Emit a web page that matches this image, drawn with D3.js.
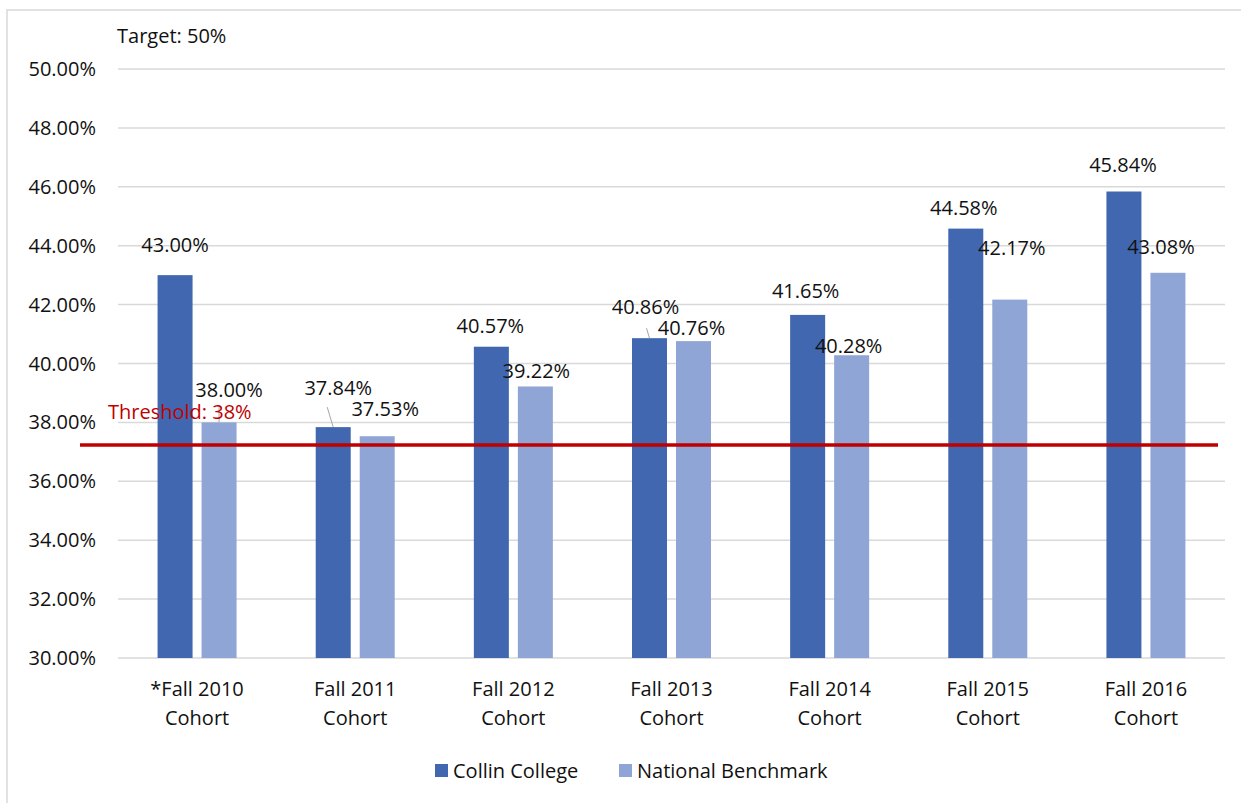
<!DOCTYPE html>
<html>
<head>
<meta charset="utf-8">
<script src="https://cdn.jsdelivr.net/npm/d3@7"></script>
<style>
  body { margin: 0; background: #fff; }
  svg text { font-family: "Open Sans", "Noto Sans", sans-serif; fill: #111; font-size: 20px; }
</style>
</head>
<body>
<div id="draw-space"></div>
<script>
const cohorts = ['*Fall 2010', 'Fall 2011', 'Fall 2012', 'Fall 2013', 'Fall 2014', 'Fall 2015', 'Fall 2016'];
const collin = [43.00, 37.84, 40.57, 40.86, 41.65, 44.58, 45.84];
const benchmark = [38.00, 37.53, 39.22, 40.76, 40.28, 42.17, 43.08];
const seriesNames = ['Collin College', 'National Benchmark'];
const yTicks = [30, 32, 34, 36, 38, 40, 42, 44, 46, 48, 50];
const thresholdValue = 37.23;
const thresholdLabel = 'Threshold: 38%';
const targetLabel = 'Target: 50%';

// label nudges (pixels) for data labels, [dx, dy from bar top to label centre]
const collinNudge = [[0, -30], [5, -39], [-1, -21], [-4, -31], [-2, -24], [-2, -21], [-1, -27]];
const benchNudge = [[10, -32], [8, -27], [1, -15], [-2, -13], [-3, -9], [2, -52], [-7, -26]];

const W = 1241, H = 803;
const colors = ['#4067B0', '#8FA5D5'];

const svg = d3.select('#draw-space').append('svg')
              .attr('width', W).attr('height', H);

svg.append('rect')
   .attr('x', 7).attr('y', 10)
   .attr('width', W + 10).attr('height', H + 10)
   .attr('fill', 'none').attr('stroke', '#d9d9d9').attr('stroke-width', 1.5);

const x0 = d3.scaleBand().domain(cohorts).range([118, 1225]);
const yScale = d3.scaleLinear().domain([30, 50]).range([658, 69]);

// gridlines
svg.selectAll('.grid')
   .data(yTicks)
   .enter()
   .append('line')
   .attr('x1', 118).attr('x2', 1225)
   .attr('y1', d => yScale(d)).attr('y2', d => yScale(d))
   .attr('stroke', '#d9d9d9').attr('stroke-width', 1.5);

svg.selectAll('.ytick')
   .data(yTicks)
   .enter()
   .append('text')
   .attr('x', 96)
   .attr('y', d => yScale(d))
   .attr('dy', '0.35em')
   .attr('text-anchor', 'end')
   .text(d => d.toFixed(2) + '%');

const barW = 35, gap = 9;
const barX = (i, s) => x0(cohorts[i]) + x0.bandwidth() / 2 + (s === 0 ? -gap / 2 - barW : gap / 2);

const series = [collin, benchmark];
const nudges = [collinNudge, benchNudge];

series.forEach((vals, s) => {
  svg.selectAll('.bar-' + s)
     .data(vals)
     .enter()
     .append('rect')
     .attr('x', (d, i) => barX(i, s))
     .attr('y', d => yScale(d))
     .attr('width', barW)
     .attr('height', d => yScale(30) - yScale(d))
     .attr('fill', colors[s]);
});

// leader lines
const leaderData = [
  {s: 1, i: 0, x1: 0, y1: -15},
  {s: 0, i: 1, x1: -6, y1: -20},
  {s: 0, i: 3, x1: -3, y1: -10}
];
svg.selectAll('.leader')
   .data(leaderData)
   .enter()
   .append('line')
   .attr('x1', d => barX(d.i, d.s) + barW / 2 + d.x1)
   .attr('y1', d => yScale(series[d.s][d.i]) + d.y1)
   .attr('x2', d => barX(d.i, d.s) + barW / 2)
   .attr('y2', d => yScale(series[d.s][d.i]))
   .attr('stroke', '#a6a6a6').attr('stroke-width', 1);

// threshold
svg.append('line')
   .attr('x1', 80).attr('x2', 1218)
   .attr('y1', yScale(thresholdValue)).attr('y2', yScale(thresholdValue))
   .attr('stroke', '#C00000').attr('stroke-width', 3.5);

svg.append('text')
   .attr('x', 108).attr('y', yScale(thresholdValue) - 33)
   .attr('dy', '0.35em')
   .style('fill', '#C00000')
   .text(thresholdLabel);

series.forEach((vals, s) => {
  svg.selectAll('.label-' + s)
     .data(vals)
     .enter()
     .append('text')
     .attr('x', (d, i) => barX(i, s) + barW / 2 + nudges[s][i][0])
     .attr('y', (d, i) => yScale(d) + nudges[s][i][1])
     .attr('dy', '0.35em')
     .attr('text-anchor', 'middle')
     .text(d => d.toFixed(2) + '%');
});

// category labels
const cats = svg.selectAll('.cat')
                .data(cohorts)
                .enter()
                .append('text')
                .attr('text-anchor', 'middle');
cats.append('tspan')
    .attr('x', d => x0(d) + x0.bandwidth() / 2)
    .attr('y', 696)
    .text(d => d);
cats.append('tspan')
    .attr('x', d => x0(d) + x0.bandwidth() / 2)
    .attr('y', 725)
    .text('Cohort');

svg.append('text')
   .attr('x', 117).attr('y', 43)
   .text(targetLabel);

// legend
const legendX = [435, 619];
seriesNames.forEach((name, s) => {
  svg.append('rect')
     .attr('x', legendX[s]).attr('y', 764)
     .attr('width', 13).attr('height', 13)
     .attr('fill', colors[s]);
  svg.append('text')
     .attr('x', legendX[s] + 18).attr('y', 771)
     .attr('dy', '0.35em')
     .text(name);
});
</script>
</body>
</html>
